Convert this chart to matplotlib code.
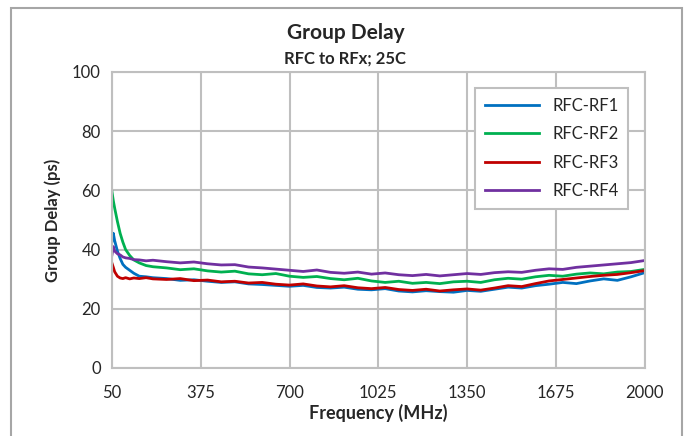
import matplotlib.pyplot as plt
from matplotlib.patches import Rectangle

plt.rcParams['font.family'] = ['Lato', 'DejaVu Sans']

freq = [50, 55, 60, 70, 80, 90, 100, 115, 130, 150, 175, 200,
        250, 300, 350, 400, 450, 500, 550, 600, 650, 700, 750, 800,
        850, 900, 950, 1000, 1050, 1100, 1150, 1200, 1250, 1300, 1350, 1400,
        1450, 1500, 1550, 1600, 1650, 1700, 1750, 1800, 1850, 1900, 1950, 2000]

rf1 = [42.7, 45.5, 43.0, 39.5, 37.0, 35.0, 34.0, 33.0, 32.0, 31.0, 30.8, 30.5,
       30.2, 29.6, 29.8, 29.3, 28.9, 29.1, 28.4, 28.2, 27.9, 27.6, 27.9, 27.2,
       27.0, 27.3, 26.6, 26.4, 26.8, 26.0, 25.7, 26.1, 25.8, 25.6, 26.2, 25.9,
       26.6, 27.3, 27.0, 27.8, 28.3, 28.9, 28.5, 29.4, 30.1, 29.6, 30.8, 32.2]
rf2 = [59.6, 56.5, 54.0, 49.5, 45.5, 42.5, 40.0, 38.0, 36.5, 35.5, 34.6, 34.2,
       33.8, 33.2, 33.5, 32.8, 32.4, 32.7, 31.8, 31.5, 31.9, 31.0, 30.6, 30.9,
       30.2, 29.8, 30.3, 29.4, 28.9, 29.3, 28.6, 28.9, 28.5, 29.1, 29.3, 28.9,
       29.8, 30.3, 30.0, 30.8, 31.3, 31.0, 31.7, 32.1, 31.8, 32.4, 32.6, 33.3]
rf3 = [35.4, 34.0, 32.5, 31.0, 30.4, 30.2, 30.5, 30.1, 30.4, 30.2, 30.5, 30.1,
       29.9, 30.2, 29.5, 29.7, 29.1, 29.3, 28.7, 28.9, 28.3, 28.0, 28.4, 27.7,
       27.4, 27.8, 27.1, 26.8, 27.2, 26.5, 26.2, 26.6, 26.0, 26.4, 26.7, 26.3,
       27.0, 27.8, 27.5, 28.5, 29.4, 29.9, 30.4, 30.9, 31.3, 31.6, 32.2, 32.9]
rf4 = [38.2, 41.0, 39.5, 38.6, 38.2, 37.5, 37.2, 37.0, 36.6, 36.5, 36.2, 36.4,
       35.9, 35.5, 35.8, 35.2, 34.8, 34.9, 34.1, 33.8, 33.4, 33.0, 32.6, 33.1,
       32.3, 32.0, 32.4, 31.7, 32.1, 31.5, 31.2, 31.6, 31.1, 31.5, 31.9, 31.6,
       32.2, 32.5, 32.3, 33.0, 33.5, 33.3, 34.0, 34.4, 34.8, 35.2, 35.6, 36.3]

series = [('RFC-RF1', rf1, '#0070C0'),
          ('RFC-RF2', rf2, '#00B050'),
          ('RFC-RF3', rf3, '#C00000'),
          ('RFC-RF4', rf4, '#7030A0')]

xticks = [50, 375, 700, 1025, 1350, 1675, 2000]

fig = plt.figure(figsize=(6.91, 4.36), dpi=100)
# chart-area border (bottom edge runs off the image, as in the reference)
fig.patches.append(Rectangle((11/691, -0.05), 671/691, 1.05 - 8/436, transform=fig.transFigure,
                             fill=False, edgecolor='#A6A6A6', lw=1.5))
ax = fig.add_axes([0.162, 0.156, 0.771, 0.679])

for name, vals, col in series:
    ax.plot(freq, vals, color=col, lw=2, label=name)

ax.set_xlim(50, 2000)
ax.set_ylim(0, 100)
ax.set_xticks(xticks)
ax.set_yticks(range(0, 101, 20))
ax.grid(True, color='#BFBFBF', lw=1.5)
ax.set_axisbelow(True)
for s in ax.spines.values():
    s.set_color('#BFBFBF')
    s.set_linewidth(1.5)
ax.tick_params(length=0, labelsize=12, colors='#262626', pad=8)
ax.tick_params(axis='x', pad=12)

ax.set_xlabel('Frequency (MHz)', fontsize=13, fontweight='bold', color='#262626', labelpad=2)
ax.set_ylabel('Group Delay (ps)', fontsize=12, fontweight='bold', color='#262626', labelpad=8)

fig.text(0.5, 0.925, 'Group Delay', ha='center', va='center', fontsize=15,
         fontweight='bold', color='#262626')
fig.text(0.5, 0.866, 'RFC to RFx; 25C', ha='center', va='center', fontsize=12,
         fontweight='bold', color='#262626')

leg = ax.legend(loc='upper right', bbox_to_anchor=(0.985, 0.975), fontsize=12,
                fancybox=False, framealpha=1, edgecolor='#BFBFBF', handlelength=3.2,
                labelspacing=0.75, borderpad=0.6)
leg.get_frame().set_linewidth(1.5)
for t in leg.get_texts():
    t.set_color('#262626')

fig.savefig('out.png', dpi=100)
